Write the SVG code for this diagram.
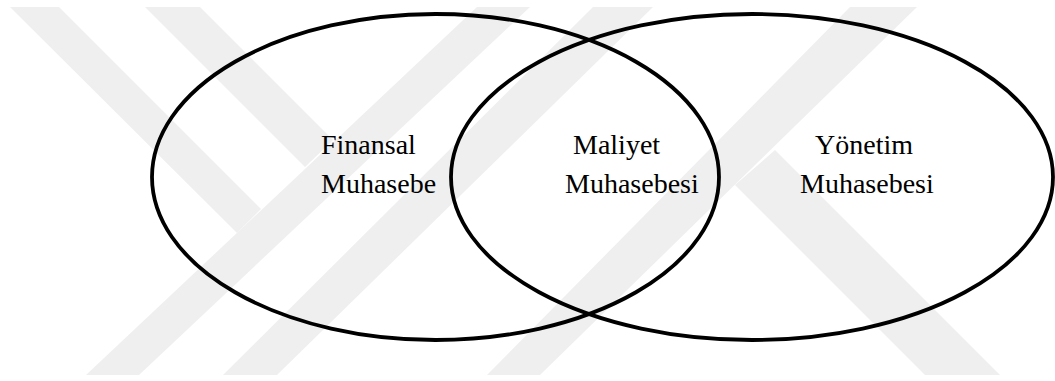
<svg xmlns="http://www.w3.org/2000/svg" width="1055" height="381" viewBox="0 0 1055 381">
  <style>
    .wm { fill: #efefef; stroke: none; }
    .set { fill: none; stroke: #000000; stroke-width: 3.8; }
    text { font-family: 'Liberation Serif', 'Times New Roman', Times, 'DejaVu Serif', serif; font-size: 28px; fill: #000000; }
  </style>
  <rect x="0" y="0" width="1055" height="381" fill="#ffffff"/>
  <g id="watermark">
    <polygon class="wm" points="10,7 59,7 261,209 237,233"/>
    <polygon class="wm" points="145,7 200,7 333,140 305,167"/>
    <polygon class="wm" points="86,375 477,7 530,7 139,375"/>
    <polygon class="wm" points="223,375 593,7 653,7 277,375"/>
    <polygon class="wm" points="487,375 850,7 917,7 540,375"/>
    <polygon class="wm" points="735,185 775,150 1000,375 925,375"/>
  </g>
  <g id="finansal-muhasebe">
    <ellipse class="set" cx="435.5" cy="177" rx="283.5" ry="163"/>
    <text x="321" y="154" font-family="Liberation Serif, serif">Finansal</text>
    <text x="321" y="193" font-family="Liberation Serif, serif">Muhasebe</text>
  </g>
  <g id="yonetim-muhasebesi">
    <ellipse class="set" cx="752" cy="177" rx="301" ry="163"/>
    <text x="815" y="154" font-family="Liberation Serif, serif">Yönetim</text>
    <text x="800" y="193" font-family="Liberation Serif, serif">Muhasebesi</text>
  </g>
  <g id="maliyet-muhasebesi">
    <text x="573" y="154" font-family="Liberation Serif, serif">Maliyet</text>
    <text x="565" y="193" font-family="Liberation Serif, serif">Muhasebesi</text>
  </g>
  <g id="connectors"></g>
</svg>
